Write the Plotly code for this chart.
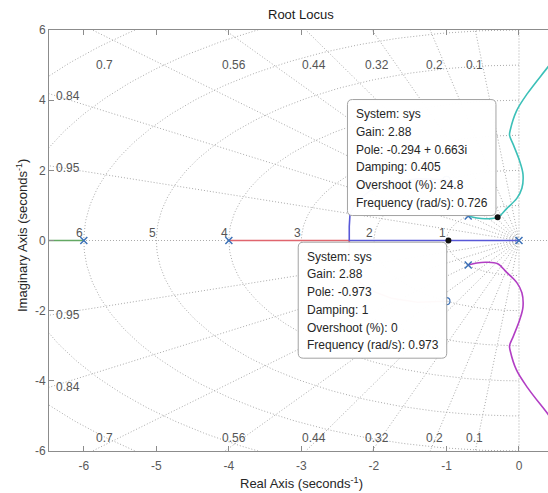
import numpy as np
import plotly.graph_objects as go

# ---------------- data ----------------
pole_re = [-6.0, -4.0, 0.0, -0.70, -0.70]
pole_im = [0.0, 0.0, 0.0, 0.70, -0.70]
zero_re = [-1.0, -1.0]
zero_im = [1.73, -1.73]

# branch leaving s = -6 toward -inf
b1_re = [-6.0, -10.0]
b1_im = [0.0, 0.0]
# branch leaving s = -4: along the real axis to the breakaway point, then to the lower zero
b2_re = [-4.0, -2.34, -2.34, -2.33, -2.25, -2.05, -1.75, -1.40, -1.0]
b2_im = [0.0, 0.0, -0.40, -0.75, -1.10, -1.42, -1.65, -1.76, -1.73]
# branch leaving s = 0: along the real axis to the breakaway point, then to the upper zero
b3_re = [0.0, -2.34, -2.34, -2.33, -2.25, -2.05, -1.75, -1.40, -1.0]
b3_im = [0.0, 0.0, 0.40, 0.75, 1.10, 1.42, 1.65, 1.76, 1.73]
# branch leaving the upper complex pole
b4_re = [-0.70, -0.58, -0.45, -0.294, -0.17, -0.03, 0.04, 0.055, 0.01, -0.08, -0.13, -0.12, -0.035, 0.12, 0.40, 0.60]
b4_im = [0.70, 0.64, 0.62, 0.663, 0.91, 1.20, 1.49, 1.89, 2.26, 2.74, 3.00, 3.15, 3.69, 4.20, 4.95, 5.50]
# branch leaving the lower complex pole
b5_re = [-0.70, -0.58, -0.45, -0.294, -0.17, -0.03, 0.04, 0.055, 0.01, -0.08, -0.13, -0.12, -0.035, 0.12, 0.40, 0.60]
b5_im = [-0.70, -0.64, -0.62, -0.663, -0.91, -1.20, -1.49, -1.89, -2.26, -2.74, -3.00, -3.15, -3.69, -4.20, -4.95, -5.50]

# data tips
tip1_lines = ["System: sys", "Gain: 2.88", "Pole: -0.294 + 0.663i", "Damping: 0.405",
              "Overshoot (%): 24.8", "Frequency (rad/s): 0.726"]
tip1_re, tip1_im = -0.294, 0.663
tip2_lines = ["System: sys", "Gain: 2.88", "Pole: -0.973", "Damping: 1",
              "Overshoot (%): 0", "Frequency (rad/s): 0.973"]
tip2_re, tip2_im = -0.973, 0.0

# s-plane grid
damping_levels = [0.1, 0.2, 0.32, 0.44, 0.56, 0.7, 0.84, 0.95]
freq_levels = [1, 2, 3, 4, 5, 6, 7, 8]
freq_labels = ["1", "2", "3", "4", "5", "6"]

x_ticks = [-6, -5, -4, -3, -2, -1, 0]
x_ticktext = ["-6", "-5", "-4", "-3", "-2", "-1", "0"]
y_ticks = [-6, -4, -2, 0, 2, 4, 6]
y_ticktext = ["-6", "-4", "-2", "0", "2", "4", "6"]

# ---------------- layout constants ----------------
W, H = 548, 493
ML, MR, MT, MB = 49, 0, 30, 42
XR = [-6.48, 0.40]
YR = [-6.0, 6.0]
PXX = (W - ML - MR) / (XR[1] - XR[0])
PXY = (H - MT - MB) / (YR[1] - YR[0])

FONT = "Liberation Sans, Arial, Helvetica, sans-serif"
GRID = "#aaaaaa"
GRID_DASH = "1px,2px"
AX = "#8c8c8c"

fig = go.Figure()

def grid_line(xs, ys):
    fig.add_trace(go.Scatter(x=xs, y=ys, mode="lines",
                             line=dict(color=GRID, width=1, dash=GRID_DASH),
                             hoverinfo="skip", showlegend=False))

# damping lines (start at the origin)
R = 14.0
for z in damping_levels:
    s = np.sqrt(1 - z * z)
    grid_line([0, -R * z], [0, R * s])
    grid_line([0, -R * z], [0, -R * s])
grid_line([0, -R], [0, 0])
grid_line([0, R], [0, 0])
grid_line([0, 0], [0, R])
grid_line([0, 0], [0, -R])

# natural-frequency arcs in the left half plane
th = np.linspace(np.pi / 2, 3 * np.pi / 2, 240)
for wn in freq_levels:
    grid_line(wn * np.cos(th), wn * np.sin(th))

# root-locus branches
branches = [
    (b1_re, b1_im, "#63a863", "linear"),
    (b2_re, b2_im, "#e0656e", "linear"),
    (b3_re, b3_im, "#5858d8", "linear"),
    (b4_re, b4_im, "#3cc0b8", "spline"),
    (b5_re, b5_im, "#b23ec4", "spline"),
]
for xs, ys, c, shp in branches:
    fig.add_trace(go.Scatter(x=xs, y=ys, mode="lines",
                             line=dict(color=c, width=1.6, shape=shp, smoothing=1.0),
                             hoverinfo="skip", showlegend=False))

# poles and zeros
fig.add_trace(go.Scatter(x=pole_re, y=pole_im, mode="markers",
                         marker=dict(symbol="x-thin", size=7, color="#3d72b8",
                                     line=dict(color="#3d72b8", width=1.5)),
                         hoverinfo="skip", showlegend=False))
fig.add_trace(go.Scatter(x=zero_re, y=zero_im, mode="markers",
                         marker=dict(symbol="circle-open", size=7, color="#3d72b8",
                                     line=dict(width=1.2)),
                         hoverinfo="skip", showlegend=False))

shapes = []
annotations = []

# grid labels: damping along the top, bottom and left edges
edge_nudge = {0.1: -1, 0.2: 4, 0.32: 5, 0.44: 8, 0.56: 9, 0.7: 12}
for z in damping_levels:
    s = np.sqrt(1 - z * z)
    xr_top = -YR[1] * z / s
    if xr_top > XR[0]:
        nud = edge_nudge.get(z, 6)
        annotations.append(dict(x=xr_top, y=YR[1], xref="x", yref="y", text=f"{z:g}",
                                showarrow=False, xanchor="center", yanchor="middle",
                                xshift=nud, yshift=-35, font=dict(size=12, color="#555555", family=FONT)))
        annotations.append(dict(x=xr_top, y=YR[0], xref="x", yref="y", text=f"{z:g}",
                                showarrow=False, xanchor="center", yanchor="middle",
                                xshift=nud, yshift=13, font=dict(size=12, color="#555555", family=FONT)))
    else:
        yl = -XR[0] * s / z
        annotations.append(dict(x=XR[0], y=yl, xref="x", yref="y", text=f"{z:g}",
                                showarrow=False, xanchor="left", yanchor="middle",
                                xshift=5, yshift=-2, font=dict(size=12, color="#555555", family=FONT)))
        annotations.append(dict(x=XR[0], y=-yl, xref="x", yref="y", text=f"{z:g}",
                                showarrow=False, xanchor="left", yanchor="middle",
                                xshift=5, yshift=0, font=dict(size=12, color="#555555", family=FONT)))

# grid labels: natural frequency on the real axis
for wn, lab in zip(freq_levels, freq_labels):
    annotations.append(dict(x=-wn, y=0, xref="x", yref="y", text=lab, showarrow=False,
                            xanchor="center", yanchor="middle", xshift=-4, yshift=8,
                            font=dict(size=12, color="#555555", family=FONT)))

def rounded_box(x0, y0, x1, y1, rpx=5):
    rx, ry = rpx / PXX, rpx / PXY
    return (f"M {x0 + rx},{y0} L {x1 - rx},{y0} Q {x1},{y0} {x1},{y0 + ry} "
            f"L {x1},{y1 - ry} Q {x1},{y1} {x1 - rx},{y1} L {x0 + rx},{y1} "
            f"Q {x0},{y1} {x0},{y1 - ry} L {x0},{y0 + ry} Q {x0},{y0} {x0 + rx},{y0} Z")

BOX_W, BOX_H, GAP = 148.5, 116.0, 1.7

def data_tip(re, im, lines, above):
    x1 = re - GAP / PXX
    x0 = re - (GAP + BOX_W) / PXX
    if above:
        y0 = im + GAP / PXY
        y1 = im + (GAP + BOX_H) / PXY
    else:
        y1 = im - GAP / PXY
        y0 = im - (GAP + BOX_H) / PXY
    shapes.append(dict(type="path", xref="x", yref="y", path=rounded_box(x0, y0, x1, y1),
                       fillcolor="rgba(255,255,255,0.97)", line=dict(color="#a3a3a3", width=1),
                       layer="above"))
    shapes.append(dict(type="circle", xref="x", yref="y", xsizemode="pixel", ysizemode="pixel",
                       xanchor=re, yanchor=im, x0=-3, x1=3, y0=-3, y1=3,
                       fillcolor="#111111", line=dict(color="#111111", width=0), layer="above"))
    for i, t in enumerate(lines):
        annotations.append(dict(x=x0, y=y1, xref="x", yref="y", text=t, showarrow=False,
                                xanchor="left", yanchor="middle", xshift=6.5,
                                yshift=-(14.5 + 17.75 * i),
                                font=dict(size=12, color="#262626", family=FONT)))

data_tip(tip1_re, tip1_im, tip1_lines, True)
data_tip(tip2_re, tip2_im, tip2_lines, False)

# title and axis labels
pw, ph = W - ML - MR, H - MT - MB
annotations.append(dict(x=(301 - ML) / pw, y=(H - MB - 14) / ph, xref="paper", yref="paper",
                        text="Root Locus", showarrow=False, xanchor="center", yanchor="middle",
                        font=dict(size=13, color="#1a1a1a", family=FONT)))
annotations.append(dict(x=(301 - ML) / pw, y=(H - MB - 483) / ph, xref="paper", yref="paper",
                        text="Real Axis (seconds<sup>-1</sup>)", showarrow=False,
                        xanchor="center", yanchor="middle",
                        font=dict(size=13, color="#262626", family=FONT)))
annotations.append(dict(x=(22 - ML) / pw, y=(H - MB - 236) / ph, xref="paper", yref="paper",
                        text="Imaginary Axis (seconds<sup>-1</sup>)", showarrow=False,
                        textangle=-90, xanchor="center", yanchor="middle",
                        font=dict(size=13, color="#262626", family=FONT)))

fig.update_layout(
    width=W, height=H,
    margin=dict(l=ML, r=MR, t=MT, b=MB, pad=0),
    paper_bgcolor="white", plot_bgcolor="white",
    font=dict(family=FONT, size=12, color="#555555"),
    showlegend=False,
    shapes=shapes, annotations=annotations,
    xaxis=dict(range=XR, showgrid=False, zeroline=False, showline=True, linecolor=AX,
               linewidth=1, mirror="ticks", ticks="inside", ticklen=5, tickcolor=AX,
               tickvals=x_ticks, ticktext=x_ticktext, ticklabelstandoff=4,
               tickfont=dict(size=12, color="#5a5a5a", family=FONT)),
    yaxis=dict(range=YR, showgrid=False, zeroline=False, showline=True, linecolor=AX,
               linewidth=1, mirror=False, ticks="inside", ticklen=5, tickcolor=AX,
               tickvals=y_ticks, ticktext=y_ticktext,
               tickfont=dict(size=12, color="#5a5a5a", family=FONT)),
)

fig.write_html("out.html")
